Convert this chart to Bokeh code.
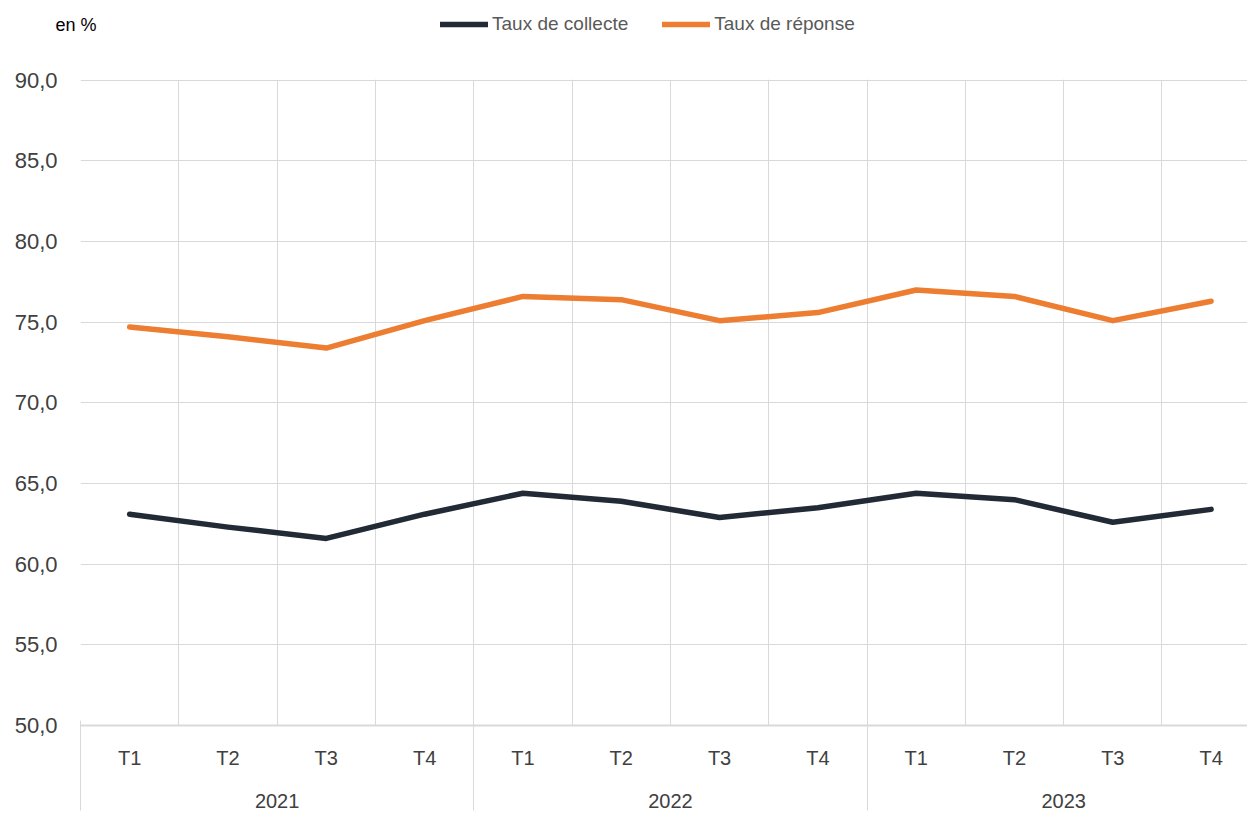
from bokeh.plotting import figure
from bokeh.layouts import column
from bokeh.models import Range1d, FixedTicker, LinearAxis, Legend, LegendItem, Label
from bokeh.embed import file_html
from bokeh.resources import INLINE

years = ["2021", "2022", "2023"]
quarters = ["T1", "T2", "T3", "T4"]
taux_collecte = [63.1, 62.3, 61.6, 63.1, 64.4, 63.9, 62.9, 63.5, 64.4, 64.0, 62.6, 63.4]
taux_reponse = [74.7, 74.1, 73.4, 75.1, 76.6, 76.4, 75.1, 75.6, 77.0, 76.6, 75.1, 76.3]
y_ticks = [50, 55, 60, 65, 70, 75, 80, 85, 90]
y_tick_labels = ["50,0", "55,0", "60,0", "65,0", "70,0", "75,0", "80,0", "85,0", "90,0"]
series_names = ["Taux de collecte", "Taux de réponse"]
unit_label = "en %"

FONT = "Liberation Sans"
GRID = "#d9d9d9"
DARK = "#222a35"
ORANGE = "#ed7d31"
TXT = "#404040"
LW = 5.5

n = len(years) * len(quarters)
xs = [i + 0.5 for i in range(n)]
q_labels = [q for _ in years for q in quarters]
year_pos = [len(quarters) * k + len(quarters) / 2 for k in range(len(years))]
sep_pos = [len(quarters) * k for k in range(len(years))]

# ---------- header (legend + unit) ----------
HEAD_H = 60
top = figure(width=1247, height=HEAD_H, output_backend="svg", toolbar_location=None,
             x_range=Range1d(0, 1), y_range=Range1d(0, 1),
             x_axis_type=None, y_axis_type=None,
             min_border_left=0, min_border_right=0, min_border_top=0, min_border_bottom=0)
top.outline_line_color = None
top.xgrid.visible = False
top.ygrid.visible = False
# legend proxies: same series, lying outside this header's (0..1) y range
d1 = top.line(xs, taux_collecte, line_color=DARK, line_width=LW, line_cap="round")
d2 = top.line(xs, taux_reponse, line_color=ORANGE, line_width=LW, line_cap="round")
legend = Legend(items=[LegendItem(label=series_names[0], renderers=[d1]),
                       LegendItem(label=series_names[1], renderers=[d2])],
                orientation="horizontal", location=(440, 25))
legend.border_line_color = None
legend.background_fill_alpha = 0
legend.padding = 0
legend.margin = 0
legend.spacing = 34
legend.glyph_width = 48
legend.glyph_height = 22
legend.label_standoff = 4
legend.label_text_font = FONT
legend.label_text_font_size = "19px"
legend.label_text_color = "#595959"
top.add_layout(legend, "center")
top.add_layout(Label(x=55, y=36, x_units="screen", y_units="screen", text=unit_label,
                     text_font=FONT, text_font_size="18px", text_color="#000000",
                     text_baseline="middle"))

# ---------- main chart ----------
p = figure(width=1247, height=816 - HEAD_H, output_backend="svg", toolbar_location=None,
           x_range=Range1d(0, 11.87), y_range=Range1d(50, 90.05),
           min_border_left=80, min_border_top=79 - HEAD_H, min_border_right=0,
           min_border_bottom=91)
p.outline_line_color = None

for f in (top, p):
    if "frame_align" in f.properties():
        f.frame_align = False

p.ygrid.ticker = FixedTicker(ticks=y_ticks)
p.ygrid.grid_line_color = GRID
p.xgrid.ticker = FixedTicker(ticks=list(range(n + 1)))
p.xgrid.grid_line_color = GRID

yax = p.yaxis[0]
yax.ticker = FixedTicker(ticks=y_ticks)
yax.major_label_overrides = {t: l for t, l in zip(y_ticks, y_tick_labels)}
yax.axis_line_color = None
yax.major_tick_line_color = None
yax.minor_tick_line_color = None
yax.major_tick_out = 0
yax.major_label_standoff = 23
yax.major_label_text_font = FONT
yax.major_label_text_font_size = "22px"
yax.major_label_text_color = TXT

xax = p.xaxis[0]
xax.ticker = FixedTicker(ticks=xs)
xax.major_label_overrides = {x: l for x, l in zip(xs, q_labels)}
xax.axis_line_color = GRID
xax.axis_line_width = 2
xax.major_tick_line_color = None
xax.minor_tick_line_color = None
xax.major_tick_out = 0
xax.major_tick_in = 0
xax.major_label_standoff = 21
xax.major_label_text_font = FONT
xax.major_label_text_font_size = "20px"
xax.major_label_text_color = TXT

yr = LinearAxis(ticker=FixedTicker(ticks=year_pos),
                major_label_overrides={x: l for x, l in zip(year_pos, years)})
yr.axis_line_color = None
yr.major_tick_line_color = None
yr.minor_tick_line_color = None
yr.major_tick_out = 0
yr.major_tick_in = 0
yr.major_label_standoff = 22
yr.major_label_text_font = FONT
yr.major_label_text_font_size = "20px"
yr.major_label_text_color = TXT
p.add_layout(yr, "below")

sep = LinearAxis(ticker=FixedTicker(ticks=[], minor_ticks=sep_pos))
sep.axis_line_color = None
sep.major_tick_line_color = None
sep.major_label_standoff = 0
sep.major_tick_out = 0
sep.major_tick_in = 0
sep.minor_tick_out = 0
sep.minor_tick_in = 90
sep.minor_tick_line_color = GRID
p.add_layout(sep, "below")

p.line(xs, taux_collecte, line_color=DARK, line_width=LW, line_join="round", line_cap="round")
p.line(xs, taux_reponse, line_color=ORANGE, line_width=LW, line_join="round", line_cap="round")

open("out.html", "w").write(file_html(column(top, p, spacing=0), INLINE))
